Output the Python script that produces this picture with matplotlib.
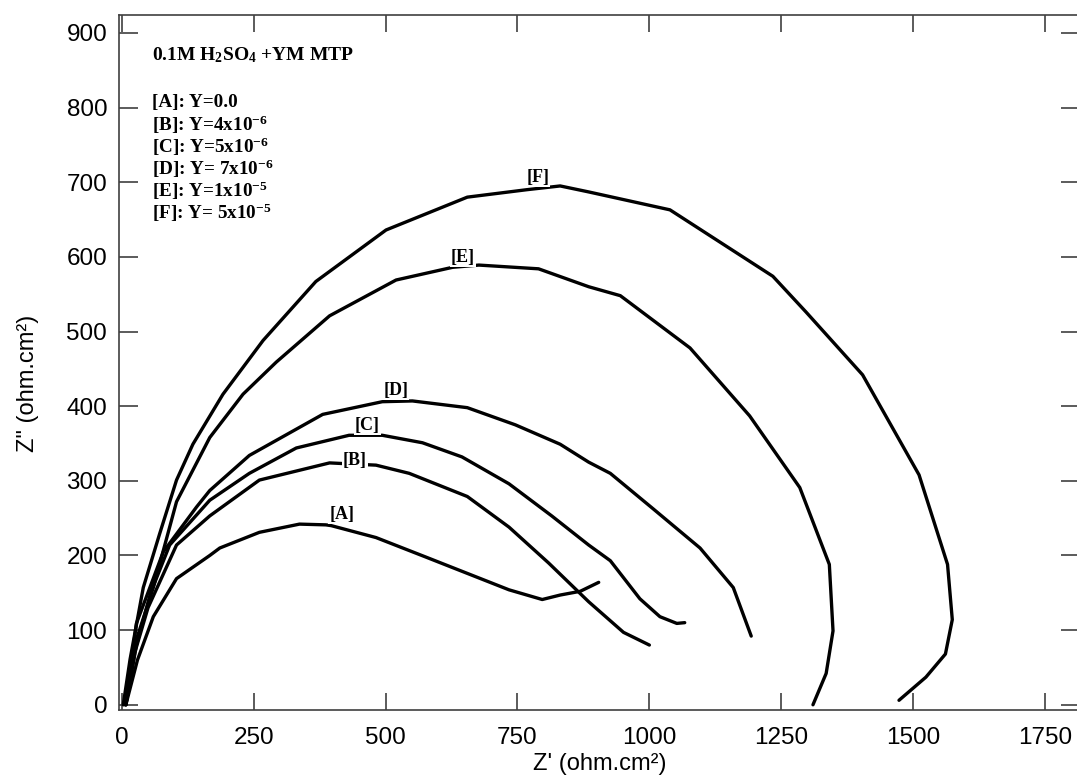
import matplotlib
matplotlib.use("Agg")
import matplotlib.pyplot as plt

plt.rcParams['font.family'] = ['Liberation Sans', 'DejaVu Sans']
plt.rcParams['mathtext.fontset'] = 'custom'
plt.rcParams['mathtext.rm'] = 'Liberation Serif:bold'
plt.rcParams['mathtext.it'] = 'Liberation Serif:bold:italic'
plt.rcParams['mathtext.bf'] = 'Liberation Serif:bold'
plt.rcParams['mathtext.default'] = 'rm'

# Nyquist curves (Z' , Z'')
a_x = [8, 30, 60, 104, 167, 186, 261, 337, 387, 397, 482, 576, 655, 734, 797, 831, 869, 904]
a_y = [0, 60, 118, 169, 200, 210, 231, 242, 241, 240, 224, 198, 176, 154, 141, 147, 152, 164]

b_x = [8, 25, 50, 104, 167, 261, 394, 482, 545, 655, 734, 809, 885, 951, 1000]
b_y = [0, 70, 130, 214, 253, 301, 324, 321, 310, 279, 238, 190, 138, 97, 80]

c_x = [8, 28, 55, 91, 167, 242, 331, 431, 494, 570, 645, 734, 815, 885, 926, 982, 1020, 1052, 1067]
c_y = [0, 80, 150, 214, 274, 310, 344, 361, 361, 351, 332, 296, 253, 214, 193, 142, 118, 109, 110]

d_x = [8, 28, 79, 142, 167, 242, 381, 494, 551, 655, 746, 831, 885, 926, 1008, 1096, 1159, 1193]
d_y = [0, 109, 205, 265, 287, 334, 389, 406, 407, 398, 375, 349, 325, 310, 262, 210, 157, 92]

e_x = [5, 20, 60, 104, 167, 230, 293, 394, 520, 627, 677, 790, 885, 945, 1077, 1190, 1285, 1341, 1348, 1335, 1310]
e_y = [0, 70, 157, 272, 358, 416, 459, 521, 569, 586, 589, 584, 560, 548, 478, 387, 291, 188, 99, 42, 0]

f_x = [3, 16, 41, 72, 104, 135, 192, 268, 368, 501, 655, 768, 831, 885, 1039, 1234, 1297, 1404, 1511, 1565, 1574, 1561, 1524, 1473]
f_y = [0, 61, 157, 229, 301, 349, 416, 488, 567, 636, 680, 690, 695, 687, 663, 574, 526, 442, 308, 188, 114, 68, 37, 6]

curve_labels = ['[A]', '[B]', '[C]', '[D]', '[E]', '[F]']
label_x = [417, 442, 466, 520, 647, 789]
label_y = [255, 327, 374, 421, 599, 706]

title_text = "0.1M H$_2$SO$_4$ +YM MTP"
legend_lines = ["[A]: Y=0.0",
                "[B]: Y=4x10$^{-6}$",
                "[C]: Y=5x10$^{-6}$",
                "[D]: Y= 7x10$^{-6}$",
                "[E]: Y=1x10$^{-5}$",
                "[F]: Y= 5x10$^{-5}$"]

x_ticks = [0, 250, 500, 750, 1000, 1250, 1500, 1750]
y_ticks = [0, 100, 200, 300, 400, 500, 600, 700, 800, 900]

fig = plt.figure(figsize=(10.77, 7.78), dpi=100)
ax = fig.add_axes([119 / 1077, 68 / 778, 961 / 1077, 695 / 778])

for xs, ys in [(a_x, a_y), (b_x, b_y), (c_x, c_y), (d_x, d_y), (e_x, e_y), (f_x, f_y)]:
    ax.plot(xs, ys, color='black', lw=2.4, solid_joinstyle='round', solid_capstyle='round', zorder=2)

for lab, lx, ly in zip(curve_labels, label_x, label_y):
    ax.text(lx, ly, lab, family='Liberation Serif', weight='bold', fontsize=13,
            ha='center', va='center', zorder=3,
            bbox=dict(facecolor='white', edgecolor='none', pad=0.5))

# text block top-left
ax.text(0.034, 0.942, title_text, transform=ax.transAxes, family='Liberation Serif',
        weight='bold', fontsize=14, ha='left', va='center')
for i, line in enumerate(legend_lines):
    ax.text(0.034, 0.874 - i * 0.0317, line, transform=ax.transAxes,
            family='Liberation Serif', weight='bold', fontsize=13.8, ha='left', va='center')

ax.set_xlim(-5, 1816)
ax.set_ylim(-7, 924)
ax.set_xticks(x_ticks)
ax.set_yticks(y_ticks)
ax.tick_params(axis='both', direction='in', top=True, right=True, color='#404040',
               width=1.2, labelsize=17.5)
ax.tick_params(axis='x', length=12, pad=12)
ax.tick_params(axis='y', length=14, pad=8.5)
for sp in ax.spines.values():
    sp.set_color('#404040')
    sp.set_linewidth(1.2)

ax.set_xlabel("Z' (ohm.cm²)", fontsize=17)
ax.set_ylabel('Z" (ohm.cm²)', fontsize=17)
ax.xaxis.set_label_coords(0.5, -0.062)
ax.yaxis.set_label_coords(-0.083, 0.47)

fig.savefig("out.png", dpi=100)
